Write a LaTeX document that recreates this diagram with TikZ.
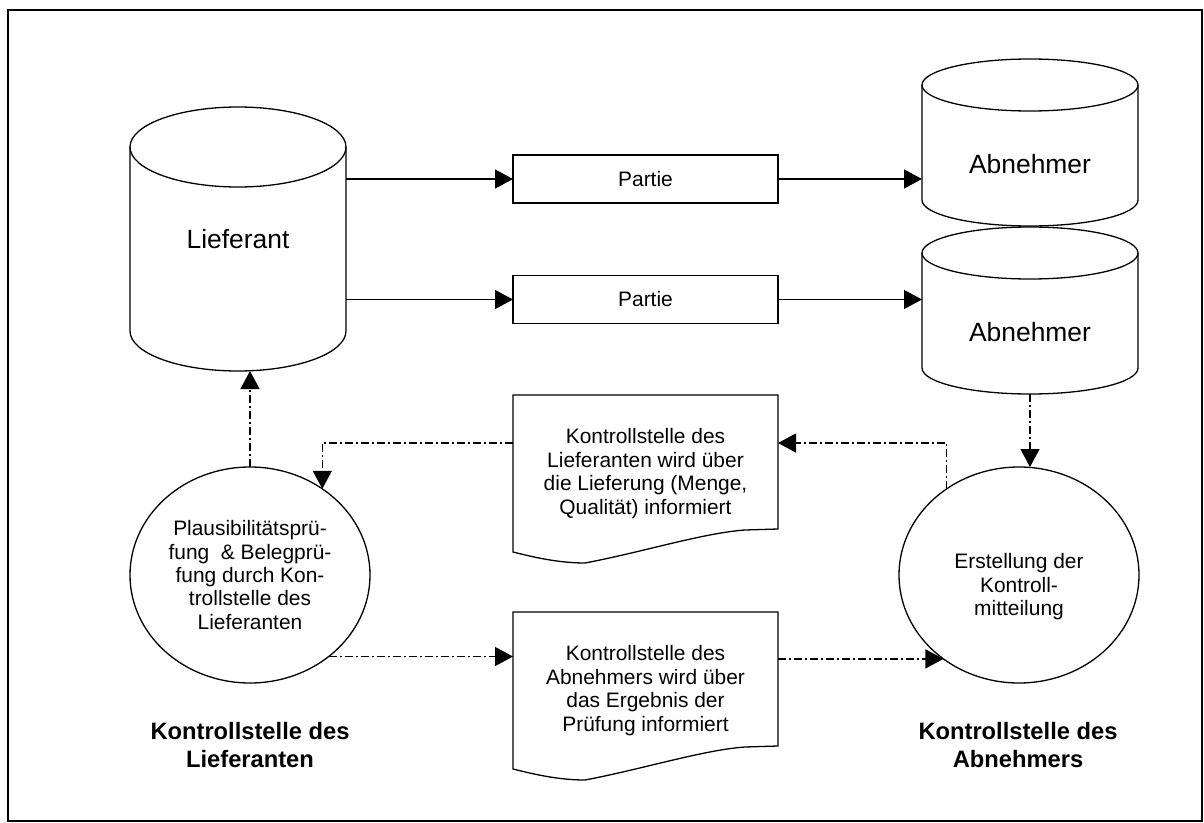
\documentclass[tikz,border=0pt]{standalone}
\usepackage{fontspec}
\setmainfont{Liberation Sans}
\usetikzlibrary{arrows.meta,shapes.geometric}

\tikzset{
  every node/.style={outer sep=0pt},
  box/.style={draw,line width=1.3bp,minimum width=265bp,minimum height=48bp,font=\fontsize{21}{24}\selectfont},
  store/.style={minimum width=216bp,font=\fontsize{26.5}{30}\selectfont},
  doc/.style={minimum width=265bp,minimum height=157bp,align=center,font=\fontsize{21}{23.7}\selectfont},
  proc/.style={ellipse,draw,line width=1.3bp,minimum width=240bp,minimum height=216bp,inner sep=1bp,align=center,font=\fontsize{21}{23.5}\selectfont},
  unit/.style={align=center,font=\bfseries\fontsize{23.8}{28}\selectfont},
  flow/.style={->,line width=1.3bp},
  ctrl/.style={->,line width=1.3bp,dash pattern=on 8bp off 3bp on 2bp off 3bp},
}

% cylinder round a node: #1 node, #2 cap radius
\newcommand{\dbshape}[2]{%
  \draw[line width=1.3bp] ([yshift=-#2]#1.north west) -- ([yshift=#2]#1.south west)
    arc[start angle=180,end angle=360,x radius=108bp,y radius=#2] -- ([yshift=-#2]#1.north east);
  \draw[line width=1.3bp] ([yshift=-#2]#1.north) ellipse [x radius=108bp,y radius=#2];}

% document round a node
\newcommand{\docshape}[1]{%
  \draw[line width=1.3bp] (#1.north west) -- (#1.north east) -- ([yshift=23bp]#1.south east)
    -- ([xshift=232bp,yshift=22bp]#1.south west)
    .. controls ([xshift=190bp,yshift=19bp]#1.south west) and ([xshift=130bp,yshift=0bp]#1.south west)
    .. ([xshift=72bp,yshift=-11bp]#1.south west)
    .. controls ([xshift=45bp,yshift=-11bp]#1.south west) and ([xshift=20bp,yshift=-5bp]#1.south west)
    .. (#1.south west) -- cycle;}

\begin{document}
\begin{tikzpicture}[>={Triangle[length=18bp,width=19bp]},line join=miter]
\useasboundingbox (0bp,0bp) rectangle (1204bp,-823bp);
\draw[line width=1.3bp] (8bp,-10bp) rectangle (1202bp,-821bp);
%%
\node (lief) at (238bp,-239bp) [store,minimum height=264bp] {Lieferant};
  \node (abn1) at (1030bp,-142.5bp) [store,minimum height=167bp,text height=62bp] {Abnehmer};
  \node (abn2) at (1030bp,-310.5bp) [store,minimum height=167bp,text height=62bp] {Abnehmer};
  \node (part1) at (645.5bp,-179bp) [box] {Partie};
  \node (part2) at (645.5bp,-299.5bp) [box] {Partie};
  \node (doc1) at (645.5bp,-473.5bp) [doc] {Kontrollstelle des\\Lieferanten wird über\\die Lieferung (Menge,\\Qualität) informiert};
  \node (doc2) at (645.5bp,-690.5bp) [doc] {Kontrollstelle des\\Abnehmers wird über\\das Ergebnis der\\Prüfung informiert};
  \node (plaus) at (250bp,-575bp) [proc] {Plausibilitätsprü-\\fung~ \& Belegprü-\\fung durch Kon-\\trollstelle des\\Lieferanten};
  \node (erst) at (1019bp,-575bp) [proc] {\rule{0pt}{39bp}Erstellung der\\Kontroll-\\mitteilung};
  \node (klief) at (250bp,-745bp) [unit] {Kontrollstelle des\\Lieferanten};
  \node (kabn) at (1018bp,-745bp) [unit] {Kontrollstelle des\\Abnehmers};
  \dbshape{lief}{40bp}
  \dbshape{abn1}{26bp}
  \dbshape{abn2}{26bp}
  \docshape{doc1}
  \docshape{doc2}
  \draw [flow] (lief.east |- part1) -- (part1);
  \draw [flow] (lief.east |- part2) -- (part2);
  \draw [flow] (part1) -- (abn1.west |- part1);
  \draw [flow] (part2) -- (abn2.west |- part2);
  \draw [ctrl] (abn2.south) -- (abn2.south |- erst.north);
  \draw [ctrl] (erst.130) |- ([yshift=-48bp]doc1.north east);
  \draw [ctrl] ([yshift=-48bp]doc1.north west) -| (plaus.50);
  \draw [ctrl] (plaus.north) -- (plaus.north |- lief.south);
  \draw [ctrl] (plaus.-46) -- (plaus.-46 -| doc2.west);
  \draw [ctrl] (doc2.east |- erst.228) -- (erst.228);
%
\end{tikzpicture}
\end{document}
